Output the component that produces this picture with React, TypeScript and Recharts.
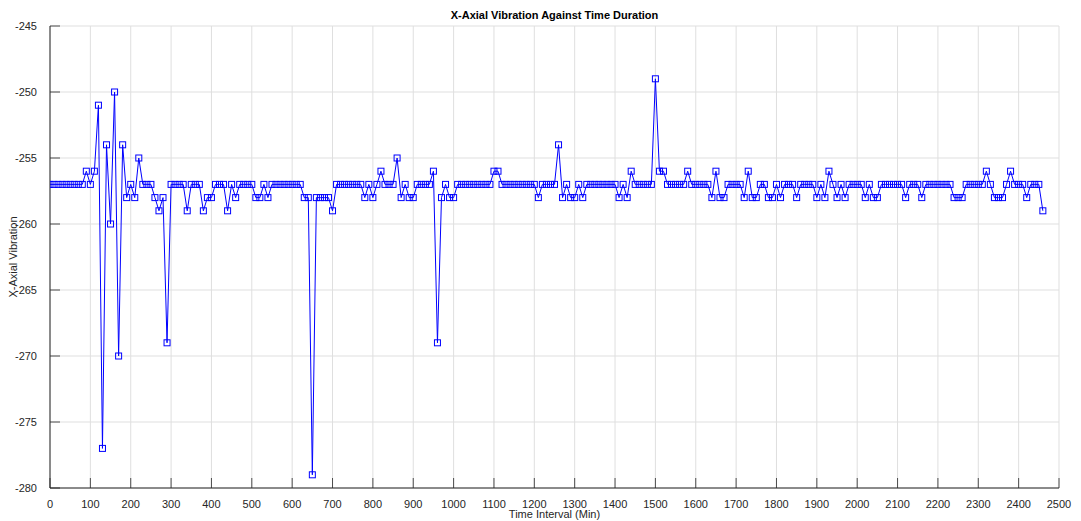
import React from 'react';
import { LineChart, Line, XAxis, YAxis, CartesianGrid } from 'recharts';

// Time in minutes (sampling every 10 min)
const TIMES: number[] = [
  0, 10, 20, 30, 40, 50, 60, 70, 80, 90,
  100, 110, 120, 130, 140, 150, 160, 170, 180, 190,
  200, 210, 220, 230, 240, 250, 260, 270, 280, 290,
  300, 310, 320, 330, 340, 350, 360, 370, 380, 390,
  400, 410, 420, 430, 440, 450, 460, 470, 480, 490,
  500, 510, 520, 530, 540, 550, 560, 570, 580, 590,
  600, 610, 620, 630, 640, 650, 660, 670, 680, 690,
  700, 710, 720, 730, 740, 750, 760, 770, 780, 790,
  800, 810, 820, 830, 840, 850, 860, 870, 880, 890,
  900, 910, 920, 930, 940, 950, 960, 970, 980, 990,
  1000, 1010, 1020, 1030, 1040, 1050, 1060, 1070, 1080, 1090,
  1100, 1110, 1120, 1130, 1140, 1150, 1160, 1170, 1180, 1190,
  1200, 1210, 1220, 1230, 1240, 1250, 1260, 1270, 1280, 1290,
  1300, 1310, 1320, 1330, 1340, 1350, 1360, 1370, 1380, 1390,
  1400, 1410, 1420, 1430, 1440, 1450, 1460, 1470, 1480, 1490,
  1500, 1510, 1520, 1530, 1540, 1550, 1560, 1570, 1580, 1590,
  1600, 1610, 1620, 1630, 1640, 1650, 1660, 1670, 1680, 1690,
  1700, 1710, 1720, 1730, 1740, 1750, 1760, 1770, 1780, 1790,
  1800, 1810, 1820, 1830, 1840, 1850, 1860, 1870, 1880, 1890,
  1900, 1910, 1920, 1930, 1940, 1950, 1960, 1970, 1980, 1990,
  2000, 2010, 2020, 2030, 2040, 2050, 2060, 2070, 2080, 2090,
  2100, 2110, 2120, 2130, 2140, 2150, 2160, 2170, 2180, 2190,
  2200, 2210, 2220, 2230, 2240, 2250, 2260, 2270, 2280, 2290,
  2300, 2310, 2320, 2330, 2340, 2350, 2360, 2370, 2380, 2390,
  2400, 2410, 2420, 2430, 2440, 2450, 2460,
];

// X-axial vibration readings
const VIBRATION: number[] = [
  -257, -257, -257, -257, -257, -257, -257, -257, -257, -256,
  -257, -256, -251, -277, -254, -260, -250, -270, -254, -258,
  -257, -258, -255, -257, -257, -257, -258, -259, -258, -269,
  -257, -257, -257, -257, -259, -257, -257, -257, -259, -258,
  -258, -257, -257, -257, -259, -257, -258, -257, -257, -257,
  -257, -258, -258, -257, -258, -257, -257, -257, -257, -257,
  -257, -257, -257, -258, -258, -279, -258, -258, -258, -258,
  -259, -257, -257, -257, -257, -257, -257, -257, -258, -257,
  -258, -257, -256, -257, -257, -257, -255, -258, -257, -258,
  -258, -257, -257, -257, -257, -256, -269, -258, -257, -258,
  -258, -257, -257, -257, -257, -257, -257, -257, -257, -257,
  -256, -256, -257, -257, -257, -257, -257, -257, -257, -257,
  -257, -258, -257, -257, -257, -257, -254, -258, -257, -258,
  -258, -257, -258, -257, -257, -257, -257, -257, -257, -257,
  -257, -258, -257, -258, -256, -257, -257, -257, -257, -257,
  -249, -256, -256, -257, -257, -257, -257, -257, -256, -257,
  -257, -257, -257, -257, -258, -256, -258, -258, -257, -257,
  -257, -257, -258, -256, -258, -258, -257, -257, -258, -258,
  -257, -258, -257, -257, -257, -258, -257, -257, -257, -257,
  -258, -257, -258, -256, -257, -258, -257, -258, -257, -257,
  -257, -257, -258, -257, -258, -258, -257, -257, -257, -257,
  -257, -257, -258, -257, -257, -257, -258, -257, -257, -257,
  -257, -257, -257, -257, -258, -258, -258, -257, -257, -257,
  -257, -257, -256, -257, -258, -258, -258, -257, -256, -257,
  -257, -257, -258, -257, -257, -257, -259,
];

const X_TICKS: number[] = [
  0, 100, 200, 300, 400, 500, 600, 700, 800, 900, 1000, 1100, 1200,
  1300, 1400, 1500, 1600, 1700, 1800, 1900, 2000, 2100, 2200, 2300, 2400, 2500,
];
const Y_TICKS: number[] = [-280, -275, -270, -265, -260, -255, -250, -245];

const TITLE = 'X-Axial Vibration Against Time Duration';
const X_LABEL = 'Time Interval (Min)';
const Y_LABEL = 'X-Axial Vibration';

const data = TIMES.map((t, i) => ({ t, v: VIBRATION[i] }));

const FONT = '"Liberation Sans", Arial, Helvetica, sans-serif';
const AXIS_COLOR = '#262626';
const TICK_LEN = 10;
const X_TM = 12;
const Y_TM = 13;

const SquareDot = (props: any) => {
  const { cx, cy, index } = props;
  if (cx == null || cy == null) return null;
  return (
    <rect
      key={`d${index}`}
      x={cx - 3}
      y={cy - 3}
      width={6}
      height={6}
      fill="none"
      stroke="#0000ff"
      strokeWidth={1}
    />
  );
};

const BottomTick = (props: any) => {
  const { x, y, payload } = props;
  const axisY = y - X_TM;
  return (
    <g>
      <line x1={x} x2={x} y1={axisY} y2={axisY - TICK_LEN} stroke={AXIS_COLOR} strokeWidth={0.8} />
      <text x={x} y={y} dy="0.71em" textAnchor="middle" fill={AXIS_COLOR} fontSize={11} fontFamily={FONT}>
        {payload.value}
      </text>
    </g>
  );
};

const TopTick = (props: any) => {
  const { x, y } = props;
  return <line x1={x} x2={x} y1={y} y2={y + TICK_LEN} stroke={AXIS_COLOR} strokeWidth={0.8} />;
};

const LeftTick = (props: any) => {
  const { x, y, payload } = props;
  const axisX = x + Y_TM;
  return (
    <g>
      <line x1={axisX} x2={axisX + TICK_LEN} y1={y} y2={y} stroke={AXIS_COLOR} strokeWidth={0.8} />
      <text x={x} y={y} dy="0.355em" textAnchor="end" fill={AXIS_COLOR} fontSize={11} fontFamily={FONT}>
        {payload.value}
      </text>
    </g>
  );
};

const RightTick = (props: any) => {
  const { x, y } = props;
  return <line x1={x} x2={x - TICK_LEN} y1={y} y2={y} stroke={AXIS_COLOR} strokeWidth={0.8} />;
};

export default function App() {
  return (
    <div style={{ position: 'absolute', left: 0, top: 0, width: 1081, height: 521, background: '#fff', fontFamily: FONT }}>
      <div
        style={{
          position: 'absolute', left: 50, top: 8, width: 1009, height: 14, lineHeight: '14px',
          textAlign: 'center', fontSize: 11, fontWeight: 'bold', color: '#000',
        }}
      >
        {TITLE}
      </div>
      <div
        style={{
          position: 'absolute', left: 50, top: 507, width: 1009, height: 14, lineHeight: '14px',
          textAlign: 'center', fontSize: 11, color: AXIS_COLOR,
        }}
      >
        {X_LABEL}
      </div>
      <div
        style={{
          position: 'absolute', left: 13 - 100, top: 257 - 7, width: 200, height: 14, lineHeight: '14px',
          textAlign: 'center', fontSize: 11, color: AXIS_COLOR, transform: 'rotate(-90deg)',
          transformOrigin: '50% 50%',
        }}
      >
        {Y_LABEL}
      </div>
      <LineChart
        width={1081}
        height={521}
        data={data}
        margin={{ top: 26, right: 22, bottom: 0, left: 0 }}
        style={{ position: 'absolute', left: 0, top: 0 }}
      >
        <CartesianGrid stroke="#dfdfdf" strokeWidth={1} />
        <XAxis
          dataKey="t"
          type="number"
          domain={[0, 2500]}
          ticks={X_TICKS}
          interval={0}
          height={33}
          tickSize={0}
          tickMargin={X_TM}
          tickLine={false}
          axisLine={{ stroke: AXIS_COLOR, strokeWidth: 1 }}
          tick={<BottomTick />}
          allowDataOverflow
        />
        <XAxis
          xAxisId="top"
          orientation="top"
          dataKey="t"
          type="number"
          domain={[0, 2500]}
          ticks={X_TICKS}
          interval={0}
          height={0}
          tickSize={0}
          tickMargin={0}
          tickLine={false}
          axisLine={{ stroke: AXIS_COLOR, strokeWidth: 1 }}
          tick={<TopTick />}
        />
        <YAxis
          type="number"
          domain={[-280, -245]}
          ticks={Y_TICKS}
          interval={0}
          width={50}
          tickSize={0}
          tickMargin={Y_TM}
          tickLine={false}
          axisLine={{ stroke: AXIS_COLOR, strokeWidth: 1 }}
          tick={<LeftTick />}
          allowDataOverflow
        />
        <YAxis
          yAxisId="right"
          orientation="right"
          type="number"
          domain={[-280, -245]}
          ticks={Y_TICKS}
          interval={0}
          width={0}
          tickSize={0}
          tickMargin={0}
          tickLine={false}
          axisLine={{ stroke: AXIS_COLOR, strokeWidth: 1 }}
          tick={<RightTick />}
        />
        <Line
          type="linear"
          dataKey="v"
          stroke="#0000ff"
          strokeWidth={1}
          dot={<SquareDot />}
          activeDot={false}
          isAnimationActive={false}
        />
      </LineChart>
    </div>
  );
}
